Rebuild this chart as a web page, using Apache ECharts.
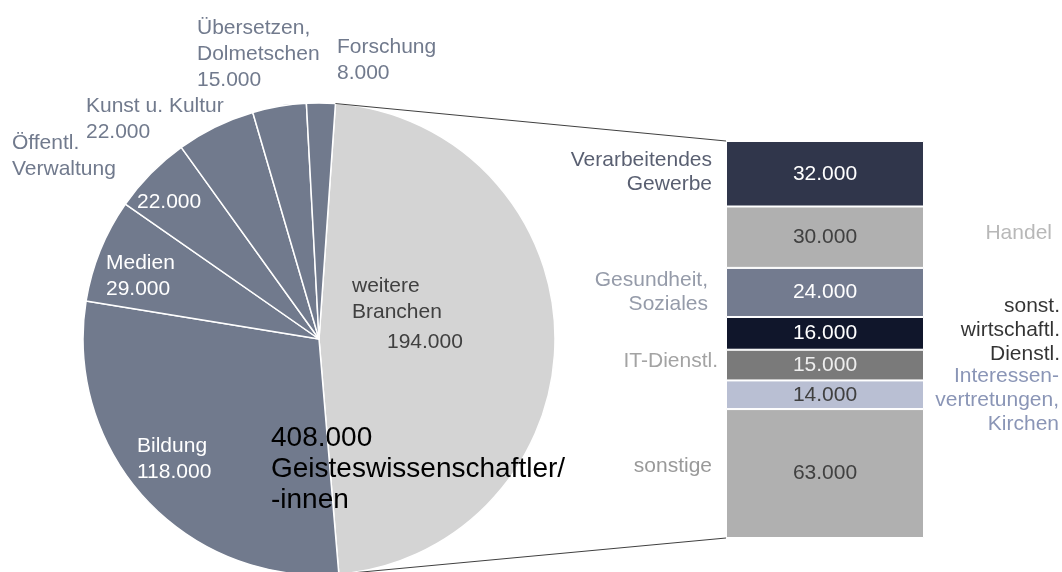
<!DOCTYPE html>
<html>
<head>
<meta charset="utf-8">
<script src="https://cdn.jsdelivr.net/npm/echarts@6/dist/echarts.min.js"></script>
<style>
  html, body { margin: 0; padding: 0; background: #fff; }
  #main { width: 1062px; height: 572px; }
</style>
</head>
<body>
<div id="main"></div>
<script>
// Pie: Geisteswissenschaftler nach Branchen (in Tsd.)
var pieNames = ['weitere Branchen', 'Bildung', 'Medien', 'Öffentl. Verwaltung', 'Kunst u. Kultur', 'Übersetzen, Dolmetschen', 'Forschung'];
var pieValues = [194, 118, 29, 22, 22, 15, 8];
var totalLabel = ['408.000', 'Geisteswissenschaftler/', '-innen'];

// Bar: Aufteilung der weiteren Branchen (in Tsd.)
var barNames = ['Verarbeitendes\nGewerbe', 'Handel', 'Gesundheit,\nSoziales', 'sonst.\nwirtschaftl.\nDienstl.', 'IT-Dienstl.', 'Interessen-\nvertretungen,\nKirchen', 'sonstige'];
var barValues = [32, 30, 24, 16, 15, 14, 63];

var FONT = "'Liberation Sans', Arial, sans-serif";
var fmt = function (v) { return v + '.000'; };

var pieCenter = [319, 339];
var pieRadius = 236;
var pieStart = 86;

var pieColors = ['#d4d4d4', '#717a8d', '#717a8d', '#717a8d', '#717a8d', '#717a8d', '#717a8d'];
// label placement (left/top of each text block)
var pieLabelPos = [[352, 273], [137, 433], [106, 250], [12, 130], [86, 93], [197, 15], [337, 34]];
var pieLabelText = [
  'weitere\nBranchen\n{v|194.000}',
  '{w|Bildung}\n{w|118.000}',
  '{w|Medien}\n{w|29.000}',
  'Öffentl.\nVerwaltung\n{x|22.000}',
  'Kunst u. Kultur\n22.000',
  'Übersetzen,\nDolmetschen\n15.000',
  'Forschung\n8.000'
];
var pieLabelColor = ['#404040', '#fff', '#fff', '#717a8d', '#717a8d', '#717a8d', '#717a8d'];

var barColors = ['#30364b', '#b0b0b0', '#737b8f', '#10162b', '#7a7a7a', '#b9bfd3', '#b0b0b0'];
var barValueColors = ['#fff', '#404040', '#fff', '#fff', '#eeeeee', '#404040', '#404040'];
var barNameColors = ['#30374d', '#a6a6a6', '#7a8294', '#000', '#8c8c8c', '#6d7ba4', '#808080'];
var barNameSide = ['left', 'right', 'left', 'right', 'left', 'right', 'left'];
var barNameDist = [113, 227, 117, 235, 107, 234, 113];
var barNameDy = [-2, -4, 0, -3, -4, 5, -7];

var pieData = pieNames.map(function (n, i) {
  return {
    name: n, value: pieValues[i],
    itemStyle: { color: pieColors[i] },
    label: { formatter: pieLabelText[i], color: pieLabelColor[i] }
  };
});

var barSeries = barValues.map(function (v, i) {
  return {
    type: 'bar', name: barNames[i], stack: 'b', barWidth: '100%',
    data: [v],
    itemStyle: { color: barColors[i], borderColor: '#fff', borderWidth: 1 },
    label: {
      show: true, position: 'inside', formatter: fmt(v),
      color: barValueColors[i], fontFamily: FONT, fontSize: 21
    },
    silent: true
  };
});

var cum = 0;
var nameData = barValues.map(function (v, i) {
  var mid = cum + v / 2;
  cum += v;
  return {
    value: [0, mid],
    label: {
      show: true, formatter: barNames[i], position: barNameSide[i],
      distance: barNameDist[i], align: 'right', offset: [0, barNameDy[i]],
      color: barNameColors[i], fontFamily: FONT, fontSize: 21, lineHeight: 24
    }
  };
});

var chart = echarts.init(document.getElementById('main'));
var option = {
  animation: false,
  backgroundColor: '#fff',
  title: {
    text: totalLabel.join('\n'),
    left: 266, top: 418,
    textStyle: { color: '#000', fontFamily: FONT, fontSize: 28, fontWeight: 'normal', lineHeight: 31 }
  },
  grid: { left: 726, top: 141, width: 198, bottom: 34 },
  xAxis: { type: 'category', data: ['weitere'], show: false },
  yAxis: { type: 'value', min: 0, max: 194, inverse: true, show: false },
  series: [{
    type: 'pie',
    center: pieCenter,
    radius: pieRadius,
    startAngle: pieStart,
    clockwise: true,
    silent: true,
    data: pieData,
    itemStyle: { borderColor: '#fff', borderWidth: 1.5 },
    label: {
      position: 'inside', fontFamily: FONT, fontSize: 21, lineHeight: 26,
      rich: {
        v: { color: '#404040', fontFamily: FONT, fontSize: 21, lineHeight: 34, padding: [0, 0, 0, 35] },
        w: { color: '#fff', fontFamily: FONT, fontSize: 21, lineHeight: 26 },
        x: { color: '#fff', fontFamily: FONT, fontSize: 21, lineHeight: 40, padding: [0, 0, 0, 125] }
      }
    },
    labelLine: { show: false },
    labelLayout: function (p) {
      var pos = pieLabelPos[p.dataIndex];
      return { x: pos[0], y: pos[1], align: 'left', verticalAlign: 'top' };
    }
  }].concat(barSeries).concat([{
    type: 'scatter', symbolSize: 0, silent: true, data: nameData, z: 5
  }])
};
chart.setOption(option);

// connector lines from the "weitere Branchen" slice to the bar
var total = pieValues.reduce(function (a, b) { return a + b; }, 0);
var a0 = pieStart * Math.PI / 180;
var a1 = (pieStart - pieValues[0] / total * 360) * Math.PI / 180;
var p0 = [pieCenter[0] + pieRadius * Math.cos(a0), pieCenter[1] - pieRadius * Math.sin(a0)];
var p1 = [pieCenter[0] + pieRadius * Math.cos(a1), pieCenter[1] - pieRadius * Math.sin(a1)];
var rect = chart.getModel().getComponent('grid').coordinateSystem.getRect();
var barTop = chart.convertToPixel({ gridIndex: 0 }, [0, 0]);
var barBot = chart.convertToPixel({ gridIndex: 0 }, [0, cum]);
chart.setOption({
  graphic: [
    { type: 'line', shape: { x1: p0[0], y1: p0[1], x2: rect.x, y2: barTop[1] }, style: { stroke: '#404040', lineWidth: 1 }, z: 10 },
    { type: 'line', shape: { x1: p1[0], y1: p1[1], x2: rect.x, y2: barBot[1] }, style: { stroke: '#404040', lineWidth: 1 }, z: 10 }
  ]
});
</script>
</body>
</html>
